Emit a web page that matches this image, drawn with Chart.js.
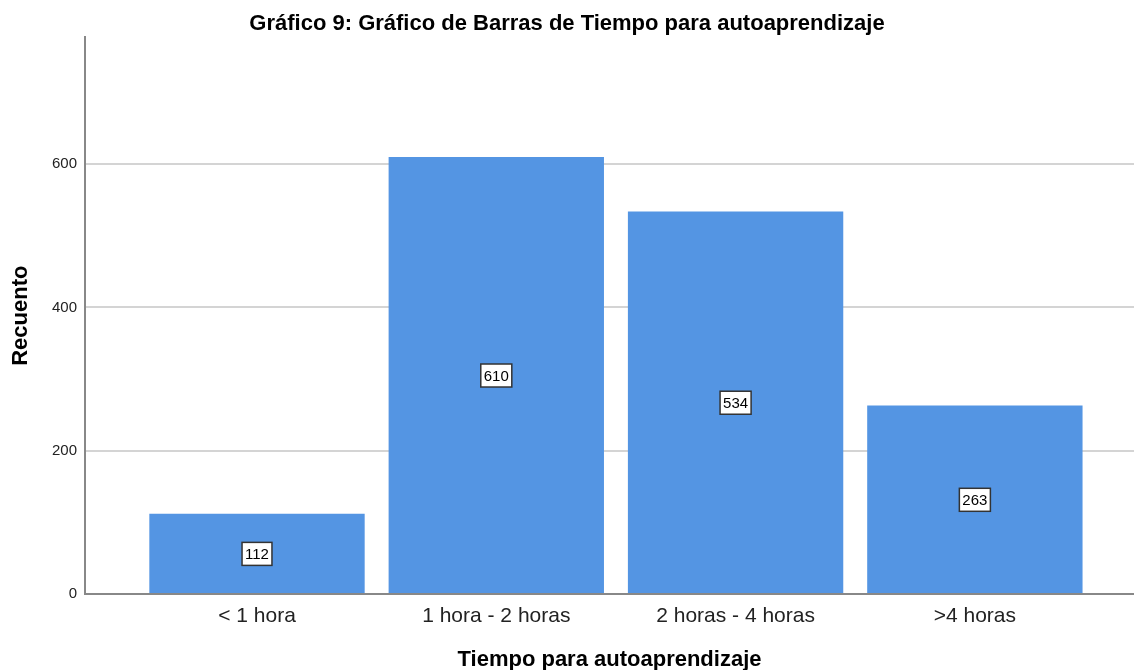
<!DOCTYPE html>
<html>
<head>
<meta charset="utf-8">
<script src="https://cdn.jsdelivr.net/npm/chart.js@4"></script>
<style>
  html, body { margin: 0; padding: 0; background: #fff; }
  #wrap { width: 1134px; height: 670px; }
</style>
</head>
<body>
<div id="wrap"><canvas id="chart"></canvas></div>
<script>
// Datos
const categories = ['< 1 hora', '1 hora - 2 horas', '2 horas - 4 horas', '>4 horas'];
const counts = [112, 610, 534, 263];
const yTicks = [0, 200, 400, 600];

// Etiqueta con caja blanca en el centro de cada barra
const boxLabels = {
    id: 'boxLabels',
    afterDatasetsDraw(chart) {
        const ctx = chart.ctx;
        const meta = chart.getDatasetMeta(0);
        const y = chart.scales.y;
        ctx.save();
        ctx.font = '15px "Liberation Sans", Arial, sans-serif';
        ctx.textAlign = 'center';
        ctx.textBaseline = 'middle';
        meta.data.forEach((bar, i) => {
            const v = counts[i];
            const cy = y.getPixelForValue(v / 2);
            const w = ctx.measureText(String(v)).width + 6;
            const h = 23;
            ctx.fillStyle = '#fff';
            ctx.fillRect(bar.x - w / 2, cy - h / 2, w, h);
            ctx.strokeStyle = '#333';
            ctx.lineWidth = 1.5;
            ctx.strokeRect(bar.x - w / 2, cy - h / 2, w, h);
            ctx.fillStyle = '#000';
            ctx.fillText(String(v), bar.x, cy + 1);
        });
        ctx.restore();
    }
};

function initChart() {
    const ctx = document.getElementById('chart').getContext('2d');
    new Chart(ctx, {
        type: 'bar',
        data: {
            datasets: [{
                label: 'Recuento',
                data: categories.map((c, i) => ({x: i, y: counts[i]})),
                backgroundColor: 'rgb(84, 149, 227)',
                borderWidth: 0,
                categoryPercentage: 0.9,
                barPercentage: 1
            }]
        },
        options: {
            responsive: true,
            maintainAspectRatio: false,
            animation: false,
            layout: { padding: 0 },
            plugins: {
                legend: { display: false },
                tooltip: { enabled: false },
                title: {
                    display: true,
                    text: 'Gráfico 9: Gráfico de Barras de Tiempo para autoaprendizaje',
                    color: '#000',
                    font: { family: '"Liberation Sans", Arial, sans-serif', size: 22, weight: 'bold', lineHeight: 1.2 },
                    padding: { top: 11, bottom: 0 }
                }
            },
            scales: {
                x: {
                    type: 'linear',
                    offset: false,
                    min: -0.7188,
                    max: 3.665,
                    afterBuildTicks: s => { s.ticks = categories.map((c, i) => ({value: i})); },
                    afterFit: s => { s.height = 76; },
                    grid: { display: false, drawTicks: false, offset: false },
                    border: { display: true, color: '#888', width: 2 },
                    ticks: {
                        padding: 10,
                        color: '#222',
                        font: { family: '"Liberation Sans", Arial, sans-serif', size: 21 },
                        callback: v => categories[v]
                    },
                    title: {
                        display: true,
                        text: 'Tiempo para autoaprendizaje',
                        color: '#000',
                        font: { family: '"Liberation Sans", Arial, sans-serif', size: 22, weight: 'bold', lineHeight: 1 },
                        padding: { top: 0, bottom: -1 }
                    }
                },
                y: {
                    min: 0,
                    max: 777,
                    afterBuildTicks: s => { s.ticks = yTicks.map(v => ({value: v})); },
                    afterFit: s => { s.width = 85; },
                    grid: { color: '#d4d4d4', lineWidth: 2, drawTicks: false },
                    border: { display: true, color: '#888', width: 2 },
                    ticks: {
                        padding: 8,
                        color: '#222',
                        font: { family: '"Liberation Sans", Arial, sans-serif', size: 15 }
                    },
                    title: {
                        display: true,
                        text: 'Recuento',
                        color: '#000',
                        font: { family: '"Liberation Sans", Arial, sans-serif', size: 22, weight: 'bold', lineHeight: 1 },
                        padding: { top: 10, bottom: 0 }
                    }
                }
            }
        },
        plugins: [boxLabels]
    });
}

document.addEventListener('DOMContentLoaded', () => {
    initChart();
});
</script>
</body>
</html>
